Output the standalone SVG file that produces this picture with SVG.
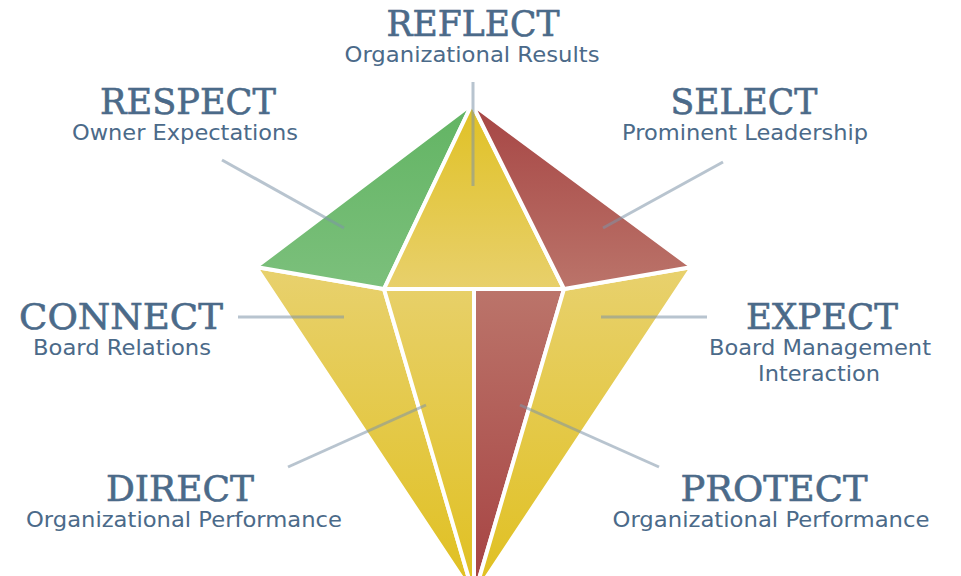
<svg xmlns="http://www.w3.org/2000/svg" width="961" height="576" viewBox="0 0 961 576">
<style>
.t{font-family:"DejaVu Serif","Liberation Serif",serif;font-size:35px;fill:#4b6a89;stroke:#4b6a89;stroke-width:0.6;text-anchor:middle}
.s{font-family:"DejaVu Sans","Verdana","Liberation Sans",sans-serif;font-size:22px;fill:#4b6a89;text-anchor:middle}
.f{stroke:#ffffff;stroke-width:4;stroke-linejoin:round}
.c{stroke:#7d93a8;stroke-opacity:0.55;stroke-width:3;fill:none}
</style>
<defs>
<linearGradient id="gGreen" gradientUnits="userSpaceOnUse" x1="0" y1="104" x2="0" y2="290"><stop offset="0" stop-color="#62b463"/><stop offset="1" stop-color="#7cc07c"/></linearGradient>
<linearGradient id="gYelTop" gradientUnits="userSpaceOnUse" x1="0" y1="104" x2="0" y2="290"><stop offset="0" stop-color="#e0c124"/><stop offset="1" stop-color="#e8d06c"/></linearGradient>
<linearGradient id="gRedTop" gradientUnits="userSpaceOnUse" x1="0" y1="104" x2="0" y2="290"><stop offset="0" stop-color="#a64544"/><stop offset="1" stop-color="#bb746a"/></linearGradient>
<linearGradient id="gYelBot" gradientUnits="userSpaceOnUse" x1="0" y1="266" x2="0" y2="590"><stop offset="0" stop-color="#e8d16e"/><stop offset="1" stop-color="#e0c020"/></linearGradient>
<linearGradient id="gRedBot" gradientUnits="userSpaceOnUse" x1="0" y1="290" x2="0" y2="590"><stop offset="0" stop-color="#bb746a"/><stop offset="1" stop-color="#a64242"/></linearGradient>
</defs>
<rect width="961" height="576" fill="#ffffff"/>
<g id="gem">
<polygon class="f" fill="url(#gYelBot)" points="256,267 384,289 474,596"/>
<polygon class="f" fill="url(#gYelBot)" points="384,289 474,289 474,596"/>
<polygon class="f" fill="url(#gRedBot)" points="474,289 564,289 474,596"/>
<polygon class="f" fill="url(#gYelBot)" points="564,289 692,267 474,596"/>
<polygon class="f" fill="url(#gGreen)" points="472,104 256,267 384,289"/>
<polygon class="f" fill="url(#gYelTop)" points="472,104 384,289 564,289"/>
<polygon class="f" fill="url(#gRedTop)" points="472,104 564,289 692,267"/>
</g>
<g id="connectors">
<line class="c" x1="473" y1="82" x2="473" y2="186"/>
<line class="c" x1="222" y1="160" x2="344" y2="228"/>
<line class="c" x1="723" y1="162" x2="603" y2="228"/>
<line class="c" x1="238" y1="317" x2="344" y2="317"/>
<line class="c" x1="601" y1="317" x2="707" y2="317"/>
<line class="c" x1="288" y1="467" x2="426" y2="405"/>
<line class="c" x1="520" y1="405" x2="659" y2="467"/>
</g>
<g id="reflect">
<text class="t" x="473" y="36" textLength="173" lengthAdjust="spacingAndGlyphs">REFLECT</text>
<text class="s" x="472" y="62" textLength="255" lengthAdjust="spacingAndGlyphs">Organizational Results</text>
</g>
<g id="respect">
<text class="t" x="188" y="114" textLength="176" lengthAdjust="spacingAndGlyphs">RESPECT</text>
<text class="s" x="185" y="140" textLength="226" lengthAdjust="spacingAndGlyphs">Owner Expectations</text>
</g>
<g id="select">
<text class="t" x="744" y="114" textLength="147" lengthAdjust="spacingAndGlyphs">SELECT</text>
<text class="s" x="745" y="140" textLength="246" lengthAdjust="spacingAndGlyphs">Prominent Leadership</text>
</g>
<g id="connect">
<text class="t" x="121" y="329" textLength="204" lengthAdjust="spacingAndGlyphs">CONNECT</text>
<text class="s" x="122" y="355" textLength="178" lengthAdjust="spacingAndGlyphs">Board Relations</text>
</g>
<g id="expect">
<text class="t" x="822" y="329" textLength="152" lengthAdjust="spacingAndGlyphs">EXPECT</text>
<text class="s" x="820" y="355" textLength="222" lengthAdjust="spacingAndGlyphs">Board Management</text>
<text class="s" x="819" y="381" textLength="122" lengthAdjust="spacingAndGlyphs">Interaction</text>
</g>
<g id="direct">
<text class="t" x="180" y="501" textLength="148" lengthAdjust="spacingAndGlyphs">DIRECT</text>
<text class="s" x="184" y="527" textLength="316" lengthAdjust="spacingAndGlyphs">Organizational Performance</text>
</g>
<g id="protect">
<text class="t" x="774" y="501" textLength="187" lengthAdjust="spacingAndGlyphs">PROTECT</text>
<text class="s" x="771" y="527" textLength="317" lengthAdjust="spacingAndGlyphs">Organizational Performance</text>
</g>
</svg>
